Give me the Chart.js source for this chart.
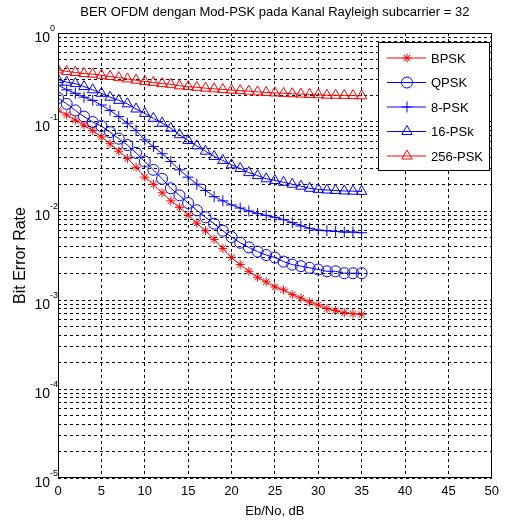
<!DOCTYPE html>
<html>
<head>
<meta charset="utf-8">
<script src="https://cdn.jsdelivr.net/npm/chart.js@4.4.1/dist/chart.umd.min.js"></script>
<style>
  html, body { margin: 0; padding: 0; background: #fff; }
  #wrap { width: 505px; height: 527px; }
</style>
</head>
<body>
<div id="wrap"><canvas id="ber-chart" width="505" height="527"></canvas></div>
<script>
const ebno = [0, 1, 2, 3, 4, 5, 6, 7, 8, 9, 10, 11, 12, 13, 14, 15, 16, 17, 18, 19, 20, 21, 22, 23, 24, 25, 26, 27, 28, 29, 30, 31, 32, 33, 34, 35];

const berBpsk = [0.136, 0.12, 0.105, 0.092, 0.08, 0.068, 0.057, 0.047, 0.039, 0.031, 0.024, 0.02, 0.016, 0.013, 0.011, 0.009, 0.0073, 0.006, 0.0048, 0.0038, 0.003, 0.0025, 0.0021, 0.0018, 0.0016, 0.0014, 0.0013, 0.00115, 0.00105, 0.00095, 0.00088, 0.0008, 0.00076, 0.00072, 0.0007, 0.00069];
const berQpsk = [0.186, 0.16, 0.135, 0.115, 0.1, 0.09, 0.077, 0.065, 0.055, 0.045, 0.036, 0.029, 0.023, 0.018, 0.015, 0.0123, 0.0102, 0.0085, 0.0072, 0.006, 0.0051, 0.0044, 0.0039, 0.0035, 0.0032, 0.003, 0.0027, 0.0025, 0.0024, 0.0023, 0.0022, 0.0021, 0.0021, 0.002, 0.002, 0.002];
const ber8psk = [0.26, 0.23, 0.21, 0.19, 0.175, 0.155, 0.135, 0.115, 0.097, 0.08, 0.063, 0.053, 0.044, 0.036, 0.029, 0.024, 0.02, 0.017, 0.0145, 0.013, 0.0117, 0.0108, 0.01, 0.0094, 0.0089, 0.0085, 0.008, 0.0074, 0.0068, 0.0064, 0.0061, 0.006, 0.0059, 0.0058, 0.0058, 0.0057];
const ber16psk = [0.3, 0.28, 0.27, 0.25, 0.23, 0.21, 0.19, 0.175, 0.16, 0.14, 0.125, 0.11, 0.097, 0.085, 0.072, 0.062, 0.054, 0.047, 0.041, 0.037, 0.033, 0.03, 0.027, 0.025, 0.023, 0.022, 0.021, 0.02, 0.019, 0.018, 0.0175, 0.0172, 0.017, 0.0168, 0.0167, 0.0166];
const ber256psk = [0.385, 0.37, 0.36, 0.35, 0.345, 0.335, 0.325, 0.315, 0.305, 0.295, 0.285, 0.278, 0.27, 0.265, 0.255, 0.25, 0.245, 0.24, 0.236, 0.232, 0.228, 0.225, 0.222, 0.218, 0.215, 0.212, 0.21, 0.208, 0.206, 0.204, 0.202, 0.2, 0.2, 0.199, 0.198, 0.197];

const xTicks = [0, 5, 10, 15, 20, 25, 30, 35, 40, 45, 50];
const yDecades = [0, -1, -2, -3, -4, -5];

const FONT = "'Liberation Sans', Arial, Helvetica, sans-serif";

function series(label, values, color, style, radius) {
    return {
        label,
        data: values.map((v, i) => ({ x: ebno[i], y: v })),
        borderColor: color,
        borderWidth: 1,
        pointStyle: style,
        pointRadius: radius,
        pointBorderColor: color,
        pointBackgroundColor: 'rgba(0,0,0,0)',
        pointBorderWidth: 1,
        fill: false,
        tension: 0
    };
}

const datasets = [
    series('BPSK', berBpsk, '#ff0000', 'star', 4.5),
    series('QPSK', berQpsk, '#0000ff', 'circle', 5.5),
    series('8-PSK', ber8psk, '#0000ff', 'cross', 5.5),
    series('16-PSk', ber16psk, '#0000ff', 'triangle', 6),
    series('256-PSK', ber256psk, '#ff0000', 'triangle', 6)
];

// frame, y tick labels (10 with exponent) and legend box
const decor = {
    id: 'decor',
    afterDraw(chart) {
        const ctx = chart.ctx;
        const area = chart.chartArea;
        const ys = chart.scales.y;
        ctx.save();
        ctx.strokeStyle = '#000';
        ctx.lineWidth = 1;
        ctx.strokeRect(Math.round(area.left) + 0.5, Math.round(area.top) + 0.5,
            Math.round(area.right - area.left) - 1, Math.round(area.bottom - area.top) - 1);

        ctx.fillStyle = '#000';
        yDecades.forEach(e => {
            const y = ys.getPixelForValue(Math.pow(10, e));
            ctx.font = '14px ' + FONT;
            ctx.textAlign = 'right';
            ctx.textBaseline = 'middle';
            ctx.fillText('10', area.left - 8, y + 5);
            ctx.font = '9px ' + FONT;
            ctx.textAlign = 'left';
            ctx.fillText(String(e), area.left - 8, y - 4);
        });

        // legend
        const bx = 378, by = 42, bw = 111, bh = 128;
        ctx.fillStyle = '#fff';
        ctx.fillRect(bx, by, bw, bh);
        ctx.strokeStyle = '#000';
        ctx.strokeRect(bx + 0.5, by + 0.5, bw, bh);
        chart.data.datasets.forEach((ds, i) => {
            const y = by + 16 + i * 24.5;
            ctx.strokeStyle = ds.borderColor;
            ctx.lineWidth = 1;
            ctx.beginPath();
            ctx.moveTo(bx + 9, y);
            ctx.lineTo(bx + 48, y);
            ctx.stroke();
            ctx.fillStyle = 'rgba(0,0,0,0)';
            Chart.helpers.drawPoint(ctx, {
                pointStyle: ds.pointStyle, radius: ds.pointRadius, borderWidth: 1, rotation: 0
            }, bx + 29, y);
            ctx.fillStyle = '#000';
            ctx.font = '13px ' + FONT;
            ctx.textAlign = 'left';
            ctx.textBaseline = 'middle';
            ctx.fillText(ds.label, bx + 53, y + 1);
        });
        ctx.restore();
    }
};

new Chart(document.getElementById('ber-chart'), {
    type: 'line',
    data: { datasets },
    plugins: [decor],
    options: {
        responsive: false,
        animation: false,
        layout: { padding: { left: 0, right: 10, top: 0, bottom: 0 } },
        plugins: {
            legend: { display: false },
            tooltip: { enabled: false },
            title: {
                display: true,
                fullSize: false,
                text: 'BER OFDM dengan Mod-PSK pada Kanal Rayleigh subcarrier = 32',
                color: '#000',
                font: { family: FONT, size: 13, weight: 'normal' },
                padding: { top: 5, bottom: 12.4 }
            }
        },
        scales: {
            x: {
                type: 'linear',
                min: 0,
                max: 50,
                afterBuildTicks: s => { s.ticks = xTicks.map(v => ({ value: v })); },
                afterFit: s => { s.height = 49; },
                ticks: { color: '#000', font: { family: FONT, size: 13 }, padding: 6, maxRotation: 0 },
                grid: { color: '#000', lineWidth: 1, drawTicks: false },
                border: { display: false, dash: [3, 3] },
                title: {
                    display: true, text: 'Eb/No, dB', color: '#000',
                    font: { family: FONT, size: 13 }, padding: { top: 0, bottom: 8 }
                }
            },
            y: {
                type: 'logarithmic',
                min: 1e-5,
                max: 1,
                afterBuildTicks: s => {
                    const t = [];
                    for (let e = -5; e < 0; e++) {
                        for (let m = 1; m < 10; m++) t.push({ value: m * Math.pow(10, e) });
                    }
                    t.push({ value: 1 });
                    s.ticks = t;
                },
                afterFit: s => { s.width = 58; },
                ticks: { display: false },
                grid: { color: '#000', lineWidth: 1, drawTicks: false },
                border: { display: false, dash: [3, 3] },
                title: {
                    display: true, text: 'Bit Error Rate', color: '#000',
                    font: { family: FONT, size: 16 }, padding: { top: 11, bottom: 0 }
                }
            }
        }
    }
});
</script>
</body>
</html>
